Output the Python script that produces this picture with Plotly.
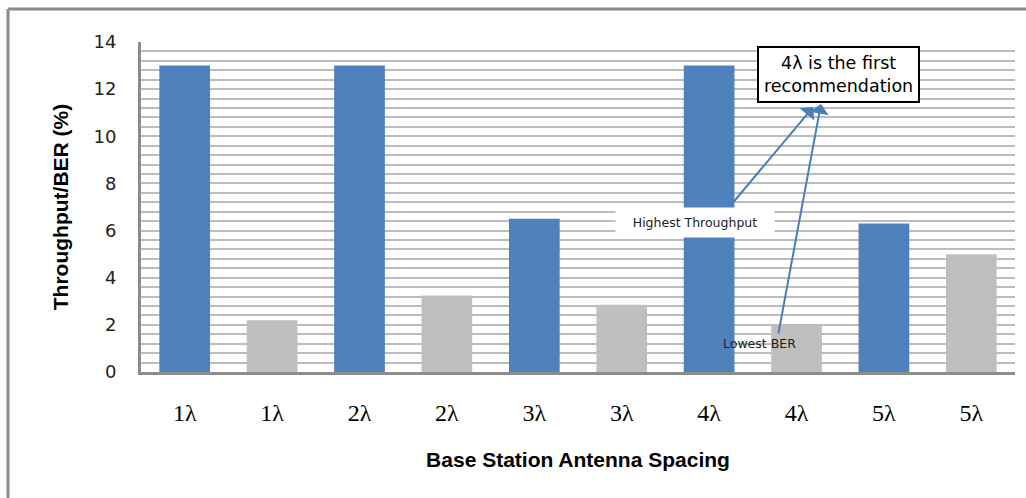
import plotly.graph_objects as go

# ---- data ----
spacing_labels = ["1λ", "1λ", "2λ", "2λ", "3λ", "3λ", "4λ", "4λ", "5λ", "5λ"]
throughput = [13.0, 13.0, 6.5, 13.0, 6.3]      # blue bars (1λ..5λ)
ber = [2.2, 3.25, 2.85, 2.0, 5.0]               # gray bars (1λ..5λ)
y_ticks = [0, 2, 4, 6, 8, 10, 12, 14]

W, H = 1026, 498
L, R, T, B = 141, 11, 42, 126

x_thr = [2 * i for i in range(len(throughput))]
x_ber = [2 * i + 1 for i in range(len(ber))]

fig = go.Figure()
fig.add_trace(go.Bar(x=x_thr, y=throughput, marker=dict(color="#4f81bd", line_width=0),
                     name="Throughput", width=0.58))
fig.add_trace(go.Bar(x=x_ber, y=ber, marker=dict(color="#bfbfbf", line_width=0),
                     name="BER", width=0.58))

fig.update_layout(
    width=W, height=H,
    margin=dict(l=L, r=R, t=T, b=B, pad=0),
    paper_bgcolor="white", plot_bgcolor="white",
    showlegend=False, barmode="overlay",
    xaxis=dict(
        range=[-0.5, 9.5],
        tickvals=list(range(len(spacing_labels))),
        ticktext=spacing_labels,
        tickfont=dict(family="Liberation Serif", size=24, color="#000"),
        ticks="outside", ticklen=17, tickcolor="rgba(0,0,0,0)",
        showgrid=False, zeroline=False,
        showline=True, linecolor="#8c8c8c", linewidth=3,
        title=dict(text="<b>Base Station Antenna Spacing</b>",
                   font=dict(family="Liberation Sans", size=21, color="#000"),
                   standoff=28),
    ),
    yaxis=dict(
        range=[0, 14],
        tickvals=y_ticks,
        tickfont=dict(family="DejaVu Sans", size=18, color="#222"),
        ticks="outside", ticklen=18, tickcolor="rgba(0,0,0,0)",
        showgrid=True, gridcolor="#bdbdbd", gridwidth=2,
        minor=dict(dtick=0.4, tick0=0, showgrid=True, gridcolor="#bdbdbd", gridwidth=1.5),
        zeroline=False,
        showline=True, linecolor="#8c8c8c", linewidth=3,
        title=dict(text="<b>Throughput/BER (%)</b>",
                   font=dict(family="Liberation Sans", size=21, color="#000"),
                   standoff=20),
    ),
)

# outer frame (left and top edges)
px2x = lambda px: (px - L) / (W - L - R)
py2y = lambda py: (H - B - py) / (H - T - B)
fig.add_shape(type="line", xref="paper", yref="paper",
              x0=px2x(8), x1=px2x(8), y0=py2y(9), y1=py2y(H + 5),
              line=dict(color="#8c8c8c", width=3))
fig.add_shape(type="line", xref="paper", yref="paper",
              x0=px2x(8), x1=px2x(W + 5), y0=py2y(9), y1=py2y(9),
              line=dict(color="#8c8c8c", width=3))

arrow_color = "#4a7ebb"
# arrows
fig.add_annotation(x=7.19, y=11.24, ax=6.27, ay=7.17, xref="x", yref="y", axref="x", ayref="y",
                   text="", showarrow=True, arrowhead=1, arrowsize=1.6, arrowwidth=2,
                   arrowcolor=arrow_color)
fig.add_annotation(x=7.28, y=11.37, ax=6.79, ay=1.57, xref="x", yref="y", axref="x", ayref="y",
                   text="", showarrow=True, arrowhead=1, arrowsize=1.6, arrowwidth=2,
                   arrowcolor=arrow_color)

# labels
fig.add_annotation(x=5.84, y=6.36, xref="x", yref="y", text="Highest Throughput",
                   showarrow=False, bgcolor="white", width=156, height=27,
                   font=dict(family="DejaVu Sans", size=12.5, color="#222"))
fig.add_annotation(x=6.58, y=1.23, xref="x", yref="y", text="Lowest BER",
                   showarrow=False,
                   font=dict(family="DejaVu Sans", size=12.5, color="#222"))
fig.add_annotation(x=7.475, y=12.64, xref="x", yref="y",
                   text="4λ is the first<br>recommendation",
                   showarrow=False, bgcolor="white", bordercolor="#000", borderwidth=2,
                   borderpad=5,
                   font=dict(family="DejaVu Sans", size=17.5, color="#000"))

fig.write_html("out.html", config={"displayModeBar": False},
               post_script="document.body.style.margin='0';")
